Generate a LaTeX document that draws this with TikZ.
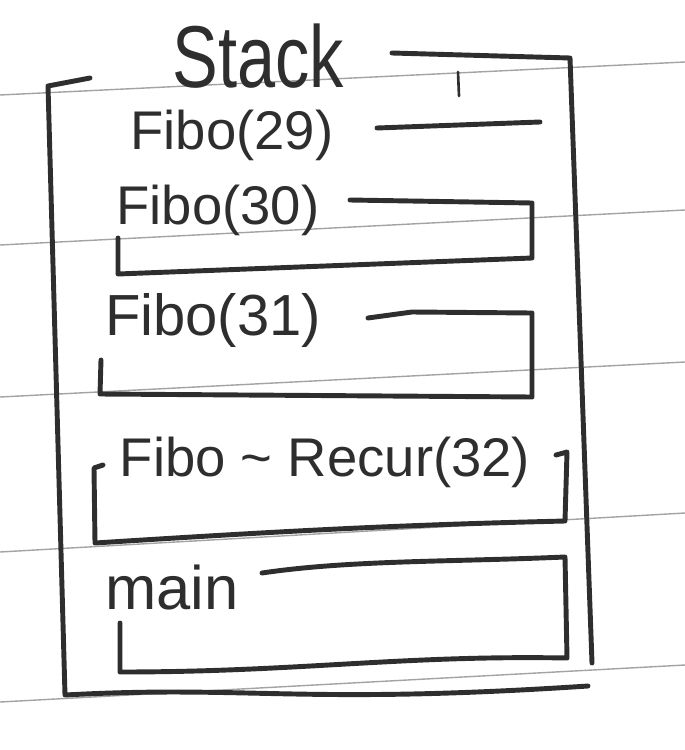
\documentclass[tikz,border=0pt]{standalone}
\usepackage{fontspec}
\setmainfont{Liberation Sans}
\definecolor{ink}{HTML}{2E2E2E}
\definecolor{ruled}{HTML}{A3A3A3}
\tikzset{
  pen/.style={draw=ink, line width=2.8pt, line cap=round, line join=round},
  ruling/.style={draw=ruled, line width=0.8pt},
  hand/.style={text=ink, inner sep=0pt, font=\fontsize{31}{31}\selectfont},
}
\begin{document}
\begin{tikzpicture}[x=0.02cm, y=-0.02cm]
	\useasboundingbox (0,0) rectangle (685,750);
	% ruled paper
	\foreach \l/\r in {95/62, 245/210, 397/362, 552/513, 702/665}
		\draw[ruling] (0,\l) -- (685,\r);
	
	\node[hand, font=\fontsize{50}{50}\selectfont, xscale=0.78] (stack) at (258,56) {Stack};
	\node[hand] (f29) at (232,135) {Fibo(29)};
	\node[hand] (f30) at (218,210) {Fibo(30)};
	\node[hand, font=\fontsize{33}{33}\selectfont] (f31) at (213,320) {Fibo(31)};
	\node[hand] (frec) at (325,462) {Fibo \textasciitilde{} Recur(32)};
	\node[hand, font=\fontsize{35}{35}\selectfont] (main) at (172,588) {main};
	
	% outer frame
	\draw[pen] (90,78) -- (48,86) -- (65,695) .. controls (250,685) and (300,705) .. (588,686);
	\draw[pen] (392,53) -- (570,58) -- (592,663);
	\draw[pen, line width=1.5pt] (458,72) -- (459,96);
	
	% frames
	\draw[pen] (377,128) -- (540,122);
	\draw[pen] (350,200) -- (532,203) -- (532,258) -- (118,274) -- (118,238);
	\draw[pen] (368,318) -- (412,312) -- (532,313) -- (532,397) -- (100,394) -- (101,360);
	\draw[pen] (103,465) -- (94,468) -- (95,543) .. controls (300,530) and (400,525) .. (565,521) -- (567,452) -- (556,455);
	\draw[pen] (262,573) .. controls (350,560) and (450,562) .. (565,557) -- (567,658) .. controls (400,655) and (300,672) .. (120,672) -- (120,623);
\end{tikzpicture}
\end{document}
